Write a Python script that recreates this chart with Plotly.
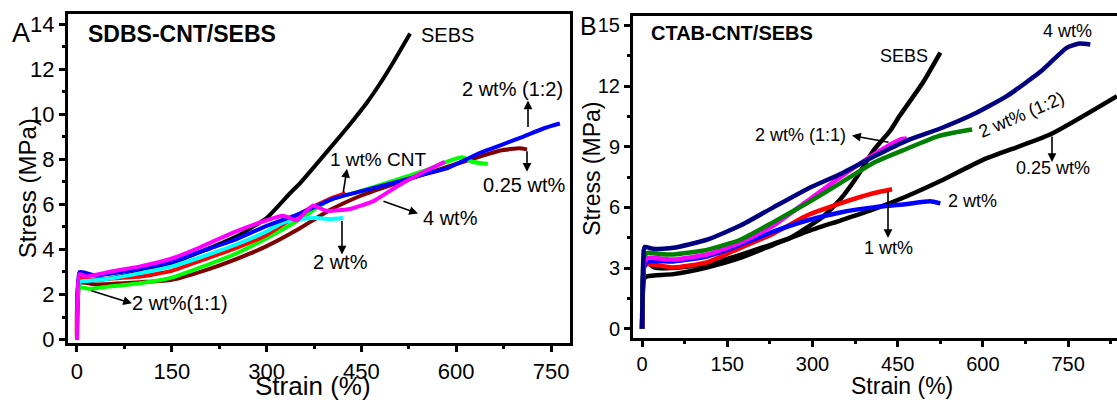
import plotly.graph_objects as go

W, H = 1117, 405
FONT = "Liberation Sans, Arial, sans-serif"

# ---------------- Panel A data (SDBS-CNT/SEBS) ----------------
A_sebs_x = [0, 3, 6, 20, 50, 100, 150, 200, 250, 263, 300, 337, 353, 405, 430, 458, 480, 500, 527]
A_sebs_y = [0, 2.5, 2.75, 2.65, 2.7, 3.0, 3.4, 3.95, 4.55, 4.75, 5.4, 6.5, 6.95, 8.66, 9.5, 10.5, 11.4, 12.3, 13.6]
A_025_x = [0, 4, 30, 100, 150, 200, 250, 300, 350, 400, 450, 500, 550, 600, 640, 670, 700, 712]
A_025_y = [0, 2.5, 2.45, 2.55, 2.65, 3.05, 3.55, 4.15, 4.9, 5.75, 6.4, 6.9, 7.35, 7.8, 8.15, 8.4, 8.5, 8.45]
A_2w11_x = [0, 4, 20, 50, 100, 150, 200, 250, 300, 350, 400, 450, 500, 550, 590, 610, 625, 650]
A_2w11_y = [0, 2.3, 2.25, 2.35, 2.5, 2.75, 3.25, 3.8, 4.5, 5.3, 6.2, 6.6, 7.05, 7.5, 7.95, 8.1, 7.9, 7.8]
A_1w_x = [0, 4, 20, 50, 100, 150, 200, 250, 300, 353, 396, 425]
A_1w_y = [0, 2.7, 2.65, 2.7, 2.8, 3.05, 3.55, 4.05, 4.65, 5.6, 6.2, 6.5]
A_2w_x = [0, 4, 15, 50, 100, 150, 200, 250, 300, 326, 353, 380, 400, 421]
A_2w_y = [0, 2.55, 2.6, 2.7, 2.95, 3.25, 3.7, 4.2, 4.8, 5.2, 5.35, 5.4, 5.35, 5.4]
A_2w12_x = [0, 4, 15, 30, 60, 100, 150, 195, 247, 300, 353, 405, 458, 506, 550, 585, 638, 700, 740, 764]
A_2w12_y = [0, 3.0, 2.95, 2.85, 2.95, 3.15, 3.45, 3.9, 4.4, 5.05, 5.6, 6.25, 6.65, 7.0, 7.35, 7.6, 8.3, 8.95, 9.4, 9.6]
A_4w_x = [0, 4, 15, 50, 100, 150, 195, 247, 300, 326, 348, 373, 395, 432, 469, 506, 545, 582]
A_4w_y = [0, 2.9, 2.8, 3.0, 3.25, 3.6, 4.1, 4.75, 5.3, 5.5, 5.3, 5.95, 5.72, 5.8, 6.15, 6.8, 7.4, 7.9]

# ---------------- Panel B data (CTAB-CNT/SEBS) ----------------
B_sebs_x = [0, 4, 10, 20, 50, 114, 173, 231, 261, 290, 319, 349, 378, 407, 437, 454, 495, 525]
B_sebs_y = [0, 3.2, 3.3, 3.05, 3.0, 3.2, 3.65, 4.2, 4.5, 5.0, 5.55, 6.4, 7.5, 8.8, 9.8, 10.55, 12.2, 13.65]
B_025_x = [0, 4, 10, 55, 114, 173, 231, 290, 349, 407, 466, 525, 600, 718, 836]
B_025_y = [0, 2.5, 2.6, 2.7, 3.03, 3.5, 4.15, 4.8, 5.35, 5.9, 6.55, 7.3, 8.35, 9.6, 11.5]
B_1w_x = [0, 4, 10, 55, 114, 173, 231, 290, 349, 407, 440]
B_1w_y = [0, 3.1, 3.2, 3.03, 3.28, 4.0, 4.7, 5.6, 6.2, 6.7, 6.9]
B_2w_x = [0, 4, 10, 55, 114, 173, 231, 290, 349, 407, 466, 507, 525]
B_2w_y = [0, 3.1, 3.33, 3.33, 3.57, 4.15, 4.8, 5.35, 5.75, 6.0, 6.17, 6.3, 6.2]
B_2w11_x = [0, 4, 10, 55, 114, 173, 231, 290, 349, 407, 454, 466]
B_2w11_y = [0, 3.3, 3.5, 3.42, 3.67, 4.25, 5.1, 6.3, 7.5, 8.6, 9.35, 9.4]
B_2w12_x = [0, 4, 10, 30, 55, 114, 173, 231, 290, 349, 407, 466, 519, 550, 581]
B_2w12_y = [0, 3.6, 3.75, 3.7, 3.67, 3.9, 4.4, 5.27, 6.2, 7.2, 8.2, 8.9, 9.5, 9.7, 9.85]
B_4w_x = [0, 3, 5, 20, 55, 114, 173, 231, 290, 349, 407, 466, 525, 583, 642, 701, 748, 770, 789]
B_4w_y = [0, 3.9, 4.05, 3.95, 4.0, 4.4, 5.1, 6.0, 6.9, 7.65, 8.5, 9.3, 9.9, 10.6, 11.5, 12.7, 13.9, 14.1, 14.05]

x_ticks = [0, 150, 300, 450, 600, 750]
A_y_ticks = [0, 2, 4, 6, 8, 10, 12, 14]
B_y_ticks = [0, 3, 6, 9, 12, 15]

fig = go.Figure()

A_series = [
    (A_sebs_x, A_sebs_y, "#000000", "SEBS"),
    (A_025_x, A_025_y, "#800000", "0.25 wt%"),
    (A_2w11_x, A_2w11_y, "#00FF00", "2 wt%(1:1)"),
    (A_1w_x, A_1w_y, "#FF0000", "1 wt% CNT"),
    (A_2w_x, A_2w_y, "#00FFFF", "2 wt%"),
    (A_2w12_x, A_2w12_y, "#0000FF", "2 wt% (1:2)"),
    (A_4w_x, A_4w_y, "#FF00FF", "4 wt%"),
]
for xs, ys, c, n in A_series:
    fig.add_trace(go.Scatter(x=xs, y=ys, mode="lines", name=n,
                             line=dict(color=c, width=4, shape="spline", smoothing=0.5),
                             xaxis="x", yaxis="y", showlegend=False))

B_series = [
    (B_sebs_x, B_sebs_y, "#000000", "SEBS"),
    (B_025_x, B_025_y, "#000000", "0.25 wt%"),
    (B_1w_x, B_1w_y, "#FF0000", "1 wt%"),
    (B_2w_x, B_2w_y, "#0000FF", "2 wt%"),
    (B_2w11_x, B_2w11_y, "#FF00FF", "2 wt% (1:1)"),
    (B_2w12_x, B_2w12_y, "#008000", "2 wt% (1:2)"),
    (B_4w_x, B_4w_y, "#000080", "4 wt%"),
]
for xs, ys, c, n in B_series:
    fig.add_trace(go.Scatter(x=xs, y=ys, mode="lines", name=n,
                             line=dict(color=c, width=4.5, shape="spline", smoothing=0.5),
                             xaxis="x2", yaxis="y2", showlegend=False))

def px(x):
    return x / W

def py(y):
    return 1 - y / H

axis_common = dict(showline=True, linecolor="black", linewidth=3, ticks="outside",
                   ticklen=6, tickwidth=3, tickcolor="black", showgrid=False, zeroline=False)

fig.update_layout(
    width=W, height=H, margin=dict(l=0, r=0, t=0, b=0),
    paper_bgcolor="white", plot_bgcolor="white",
    font=dict(family=FONT, color="black"),
    xaxis=dict(domain=[px(68), px(570)], range=[-14.2, 780], tickvals=x_ticks,
               mirror=True, anchor="y", tickfont=dict(size=22),
               minor=dict(dtick=75, tick0=0, ticks="outside", ticklen=3, tickwidth=3, tickcolor="black"),
               **axis_common),
    yaxis=dict(domain=[py(351), py(13)], range=[-0.17, 14.48], tickvals=A_y_ticks,
               mirror=True, anchor="x", tickfont=dict(size=22),
               minor=dict(dtick=1, tick0=0, ticks="outside", ticklen=3, tickwidth=3, tickcolor="black"),
               **axis_common),
    xaxis2=dict(domain=[px(633), 1.0], range=[-16, 836], tickvals=x_ticks,
                mirror=True, anchor="y2", tickfont=dict(size=20),
                minor=dict(dtick=75, tick0=0, ticks="outside", ticklen=3, tickwidth=3, tickcolor="black"),
                **axis_common),
    yaxis2=dict(domain=[py(346), py(15)], range=[-0.48, 15.48], tickvals=B_y_ticks,
                mirror=False, anchor="x2", tickfont=dict(size=20),
                minor=dict(dtick=1.5, tick0=0, ticks="outside", ticklen=3, tickwidth=3, tickcolor="black"),
                **axis_common),
)

def label(text, x, y, size, bold=False, angle=0):
    fig.add_annotation(text=f"<b>{text}</b>" if bold else text, x=px(x), y=py(y),
                       xref="paper", yref="paper", showarrow=False, textangle=angle,
                       xanchor="center", yanchor="middle",
                       font=dict(family=FONT, size=size, color="black"))

def arrow(tail, head):
    fig.add_annotation(text="", x=px(head[0]), y=py(head[1]), xref="paper", yref="paper",
                       ax=tail[0] - head[0], ay=tail[1] - head[1], axref="pixel", ayref="pixel",
                       showarrow=True, arrowhead=2, arrowsize=1.1, arrowwidth=1.6,
                       arrowcolor="black")

# Panel A texts
label("A", 21, 33, 27)
label("SDBS-CNT/SEBS", 182, 34, 23, bold=True)
label("SEBS", 447, 35, 20)
label("2 wt% (1:2)", 512, 90, 20)
label("0.25 wt%", 524, 189, 20)
label("1 wt% CNT", 378, 162, 19)
label("4 wt%", 450, 222, 20)
label("2 wt%", 340, 268, 20)
label("2 wt%(1:1)", 180, 310, 20)
label("Strain (%)", 313, 395, 26)
label("Stress (MPa)", 27, 192, 24, angle=-90)

arrow((528, 130), (528, 102))
arrow((527, 153), (527, 175))
arrow((343, 197), (347, 172))
arrow((382, 205), (418, 218))
arrow((342, 225), (342, 260))
arrow((90, 297), (132, 310))

# Panel B texts
label("B", 588, 26, 25)
label("CTAB-CNT/SEBS", 732, 33, 20, bold=True)
label("SEBS", 904, 56, 18)
label("4 wt%", 1067, 31, 18)
label("2 wt% (1:2)", 1021, 117, 18, angle=-23)
label("0.25 wt%", 1053, 171, 18)
label("2 wt%", 972, 205, 18)
label("1 wt%", 888, 253, 18)
label("2 wt% (1:1)", 800, 137, 18)
label("Strain (%)", 902, 395, 23)
label("Stress (MPa)", 592, 172, 23, angle=-90)

arrow((1052, 138), (1052, 165))
arrow((888, 195), (888, 243))
arrow((890, 145), (852, 138))

fig.write_html("out.html", config={"displayModeBar": False},
               post_script="document.body.style.margin='0';document.body.style.overflow='hidden';")
